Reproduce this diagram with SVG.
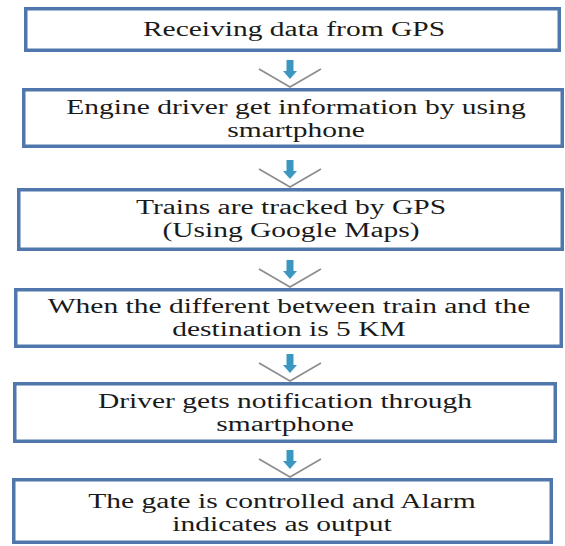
<svg xmlns="http://www.w3.org/2000/svg" xmlns:xlink="http://www.w3.org/1999/xlink" width="565" height="546" viewBox="0 0 565 546">
  <style>
    .box { fill: #ffffff; stroke: #5077ac; stroke-width: 3.5; }
    .t { font-size: 20px; fill: #1a1a1a; text-anchor: middle; }
    .chev { fill: none; stroke: #8c8c8c; stroke-width: 1.6; }
    .down { fill: #3c97c0; }
  </style>
  <defs>
    <!-- connector: grey chevron with small blue down arrow, origin at chevron tip -->
    <g id="flow">
      <polyline class="chev" points="-31,-18 0,0 31,-18"/>
      <polygon class="down" points="-3.5,-27 3.5,-27 3.5,-16 7,-16 0,-8 -7,-16 -3.5,-16"/>
    </g>
  </defs>
  <rect width="565" height="546" fill="#ffffff"/>

  <g id="connectors">
    <use xlink:href="#flow" transform="translate(290,87)"/>
    <use xlink:href="#flow" transform="translate(290,187)"/>
    <use xlink:href="#flow" transform="translate(290,287)"/>
    <use xlink:href="#flow" transform="translate(290,381)"/>
    <use xlink:href="#flow" transform="translate(290,477)"/>
  </g>

  <g font-family="'Liberation Serif', 'DejaVu Serif', 'Times New Roman', Times, serif">
    <g id="step1">
      <rect class="box" x="25.75" y="8.75" width="533.5" height="41.5"/>
      <text class="t" transform="translate(294,36) scale(1.475,1)">Receiving data from GPS</text>
    </g>
    <g id="step2">
      <rect class="box" x="23.75" y="89.75" width="538.5" height="56.5"/>
      <text class="t" transform="translate(296,114) scale(1.475,1)">Engine driver get information by using</text>
      <text class="t" transform="translate(296,137) scale(1.475,1)">smartphone</text>
    </g>
    <g id="step3">
      <rect class="box" x="18.75" y="189.75" width="543.5" height="59.5"/>
      <text class="t" transform="translate(291,214) scale(1.475,1)">Trains are tracked by GPS</text>
      <text class="t" transform="translate(291,237) scale(1.475,1)">(Using Google Maps)</text>
    </g>
    <g id="step4">
      <rect class="box" x="15.75" y="289.75" width="545.5" height="56.5"/>
      <text class="t" transform="translate(289,313) scale(1.475,1)">When the different between train and the</text>
      <text class="t" transform="translate(289,336) scale(1.475,1)">destination is 5 KM</text>
    </g>
    <g id="step5">
      <rect class="box" x="14.75" y="383.75" width="540.5" height="57.5"/>
      <text class="t" transform="translate(285,408) scale(1.475,1)">Driver gets notification through</text>
      <text class="t" transform="translate(285,431) scale(1.475,1)">smartphone</text>
    </g>
    <g id="step6">
      <rect class="box" x="13.75" y="479.75" width="537.5" height="62.5"/>
      <text class="t" transform="translate(282,508) scale(1.475,1)">The gate is controlled and Alarm</text>
      <text class="t" transform="translate(282,531) scale(1.475,1)">indicates as output</text>
    </g>
  </g>
</svg>
